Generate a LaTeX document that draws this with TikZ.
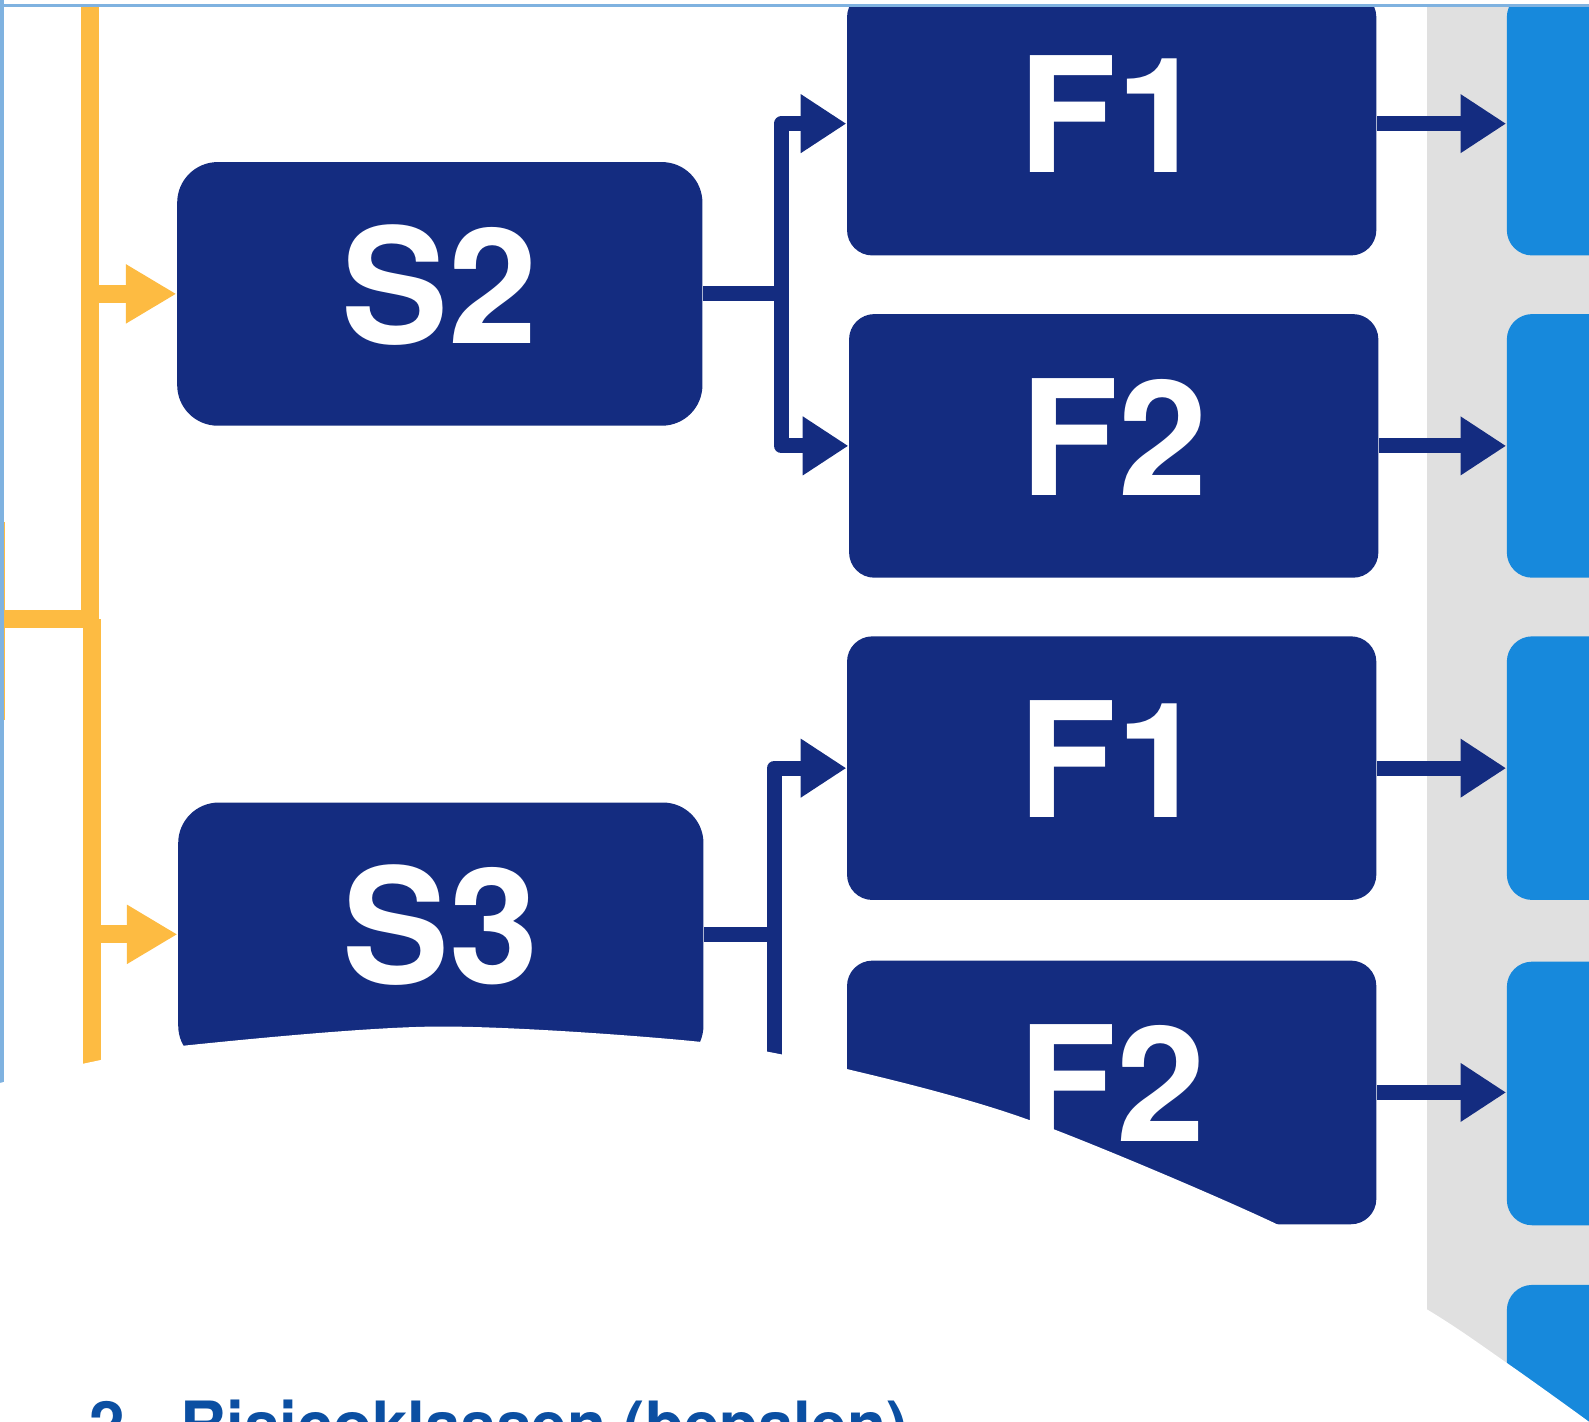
\documentclass[tikz,border=0pt]{standalone}
\usepackage{fontspec}
\setmainfont{TeX Gyre Heros}
\usetikzlibrary{arrows.meta, positioning}

\definecolor{navy}{RGB}{20,44,128}
\definecolor{skyblue}{RGB}{23,137,220}
\definecolor{amber}{RGB}{253,187,66}
\definecolor{framecol}{RGB}{127,178,224}
\definecolor{bandgray}{RGB}{224,224,224}
\definecolor{titleblue}{RGB}{11,79,162}

\tikzset{
  sblock/.style={rectangle, rounded corners=0.4cm, fill=navy, text=white,
    minimum width=5.18cm, minimum height=2.6cm, inner sep=0pt,
    font=\fontsize{45}{50}\selectfont\bfseries, text height=1.13cm, text depth=0.16cm},
  fblock/.style={sblock, rounded corners=0.25cm, minimum width=5.22cm},
  rblock/.style={rectangle, rounded corners=0.25cm, fill=skyblue,
    minimum width=2.14cm, minimum height=2.6cm, inner sep=0pt},
  navyline/.style={draw=navy, line width=0.15cm, line join=round,
    -{Triangle[length=0.45cm, width=0.55cm]}},
  yellowline/.style={draw=amber, line width=0.18cm},
  yellowarrow/.style={yellowline, -{Triangle[length=0.5cm, width=0.55cm]}},
  title/.style={text=titleblue, inner sep=0pt,
    font=\fontsize{17.9}{20}\selectfont\bfseries}
}

\begin{document}
\begin{tikzpicture}[x=0.01cm, y=-0.01cm]
        \useasboundingbox (0, 0) rectangle (1568, 1403);
        \clip (0, 0) rectangle (1568, 1403);

        % grey band behind the result column
        \fill[bandgray] (1408, 0) rectangle (1600, 1450);

        \node[rblock] (r1) at (1594, 122) {};
        \node[rblock] (r2) at (1594, 440) {};
        \node[rblock] (r3) at (1594, 758) {};
        \node[rblock] (r4) at (1594, 1079) {};
        \node[rblock] (r5) at (1594, 1398) {};

        \node[sblock] (s2) at (434, 290) {S2};
        \node[sblock] (s3) at (435, 922) {S3};

        \node[fblock] (f1a) at (1097, 122) {F1};
        \node[fblock] (f2a) at (1099, 440) {F2};
        \node[fblock] (f1b) at (1097, 758) {F1};
        \node[fblock] (f2b) at (1097, 1078) {F2};

        \coordinate (fork2) at (771, 290);
        \coordinate (fork3) at (764, 922);

        \draw[navyline, -] (s2.east) -- (fork2);
        \draw[navyline] (fork2) |- (f1a.west);
        \draw[navyline] (fork2) |- (f2a.west);
        \draw[navyline, -] (s3.east) -- (fork3);
        \draw[navyline] (fork3) |- (f1b.west);
        \draw[navyline] (fork3) |- (f2b.west);

        \draw[navyline] (f1a.east) -- (f1a.east -| r1.west);
        \draw[navyline] (f2a.east) -- (f2a.east -| r2.west);
        \draw[navyline] (f1b.east) -- (f1b.east -| r3.west);
        \draw[navyline] (f2b.east) -- (f2b.east -| r4.west);

        % yellow trunk with its side branch
        \coordinate (trunk) at (89, 0);
        \coordinate (joint) at (89, 611);
        \coordinate (trunkend) at (91, 1100);
        \coordinate (side) at (-4, 611);
        \draw[yellowline] (trunk) -- (joint);
        \draw[yellowline] (joint -| trunkend) -- (trunkend);
        \draw[yellowline] (side) -- (joint);
        \draw[yellowline] (-4, 515) -- (-4, 710);
        \draw[yellowarrow] (trunk |- s2.west) -- (s2.west);
        \draw[yellowarrow] (trunkend |- s3.west) -- (s3.west);

        % window frame
        \fill[white] (0, 0) rectangle (1568, 4);
        \draw[framecol, line width=0.03cm] (0, 5.5) -- (1568, 5.5);
        \draw[framecol, line width=0.04cm] (2, 0) -- (2, 1100);

        % curled page covering the lower part
        \fill[white] plot[smooth] coordinates {(-10, 1071) (90, 1048) (180, 1032)
            (430, 1013) (690, 1028) (836, 1055) (1015, 1105) (1260, 1208)
            (1408, 1292) (1487, 1345) (1568, 1403) (1600, 1428)}
            -- (1600, 1450) -- (-10, 1450) -- cycle;

        \node[title, anchor=base west] (caption) at (88, 1428)
            {2.\hspace{0.37cm}Risicoklassen (bepalen)};
\end{tikzpicture}
\end{document}
